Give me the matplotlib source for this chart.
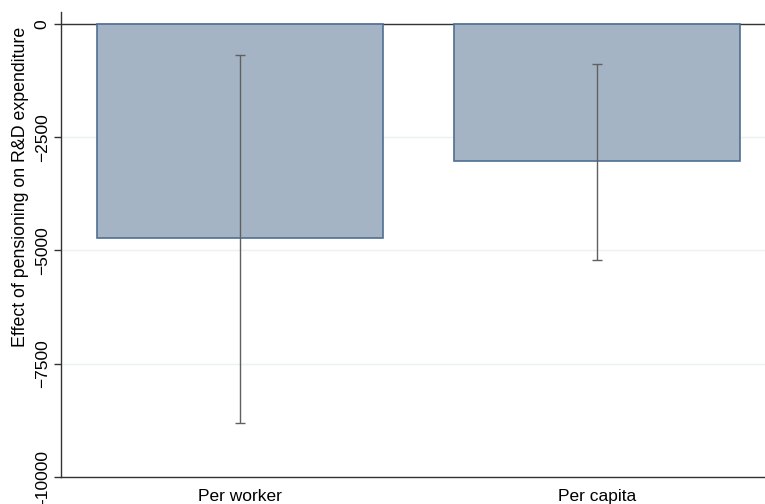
import matplotlib.pyplot as plt

plt.rcParams['font.family'] = ['Liberation Sans', 'DejaVu Sans']

categories = ['Per worker', 'Per capita']
effects = [-4730, -3020]
ci_low = [-8810, -5210]
ci_high = [-680, -880]
yticks = [0, -2500, -5000, -7500, -10000]
ytick_labels = ['0', '\u22122500', '\u22125000', '\u22127500', '-10000']

fig = plt.figure(figsize=(7.65, 5.04), dpi=100)
ax = fig.add_axes([0.0797, 0.0536, 0.9203, 0.9226])

x = list(range(len(categories)))
ax.bar(x, effects, width=0.8, color='#a5b4c5', edgecolor='#4f6f92', linewidth=1.2, zorder=2)
lower = [e - l for e, l in zip(effects, ci_low)]
upper = [h - e for e, h in zip(effects, ci_high)]
ax.errorbar(x, effects, yerr=[lower, upper], fmt='none', ecolor='#606060',
            elinewidth=1.0, capsize=3.3, capthick=1.0, zorder=3)

ax.axhline(0, color='#333333', linewidth=1, zorder=1)
ax.set_xlim(-0.5, 1.47)
ax.set_ylim(-10000, 265)
ax.set_yticks(yticks)
ax.set_yticklabels(ytick_labels, rotation=90, va='center', fontsize=12.5)
ax.set_xticks(x)
ax.set_xticklabels(categories, fontsize=12.5)
ax.tick_params(axis='x', length=0, pad=9)
ax.tick_params(axis='y', length=5, width=1, color='#333333', pad=3)
ax.grid(axis='y', color='#eaf2f3', linewidth=1, zorder=0)
ax.set_axisbelow(True)
ax.set_ylabel('Effect of pensioning on R&D expenditure', fontsize=12.8)
ax.yaxis.set_label_coords(-0.045, 0.624)

for s in ['top', 'right']:
    ax.spines[s].set_visible(False)
for s in ['left', 'bottom']:
    ax.spines[s].set_color('#333333')
    ax.spines[s].set_linewidth(1)

fig.savefig('out.png', dpi=100)
